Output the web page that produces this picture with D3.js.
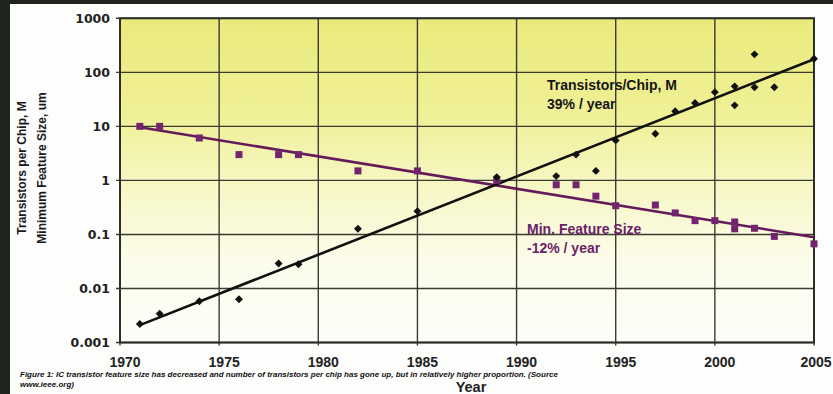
<!DOCTYPE html>
<html>
<head>
<meta charset="utf-8">
<script src="https://cdn.jsdelivr.net/npm/d3@7"></script>
<style>
  html, body { margin: 0; padding: 0; background: #1f241c; }
  svg { display: block; }
</style>
</head>
<body>
<svg id="chart" width="833" height="394"></svg>
<script>
// ---- data ----
const transYears  = [1971, 1972, 1974, 1976, 1978, 1979, 1982, 1985, 1989, 1992, 1993, 1994, 1995, 1997, 1998, 1999, 2000, 2001, 2001, 2002, 2002, 2003, 2005];
const transValues = [0.0022, 0.0034, 0.0058, 0.0063, 0.029, 0.028, 0.127, 0.27, 1.15, 1.2, 3.0, 1.5, 5.5, 7.3, 19, 27, 43, 55, 24.5, 215, 53, 53, 179];

const featYears  = [1971, 1972, 1974, 1976, 1978, 1979, 1982, 1985, 1989, 1992, 1993, 1994, 1995, 1997, 1998, 1999, 2000, 2001, 2001, 2002, 2003, 2005];
const featValues = [10, 10, 6.1, 3.0, 3.0, 3.0, 1.5, 1.5, 1.0, 0.83, 0.83, 0.51, 0.34, 0.35, 0.25, 0.18, 0.18, 0.17, 0.127, 0.13, 0.092, 0.067];

const transTrendYears  = [1971, 2005];
const transTrendValues = [0.0021, 175];
const featTrendYears  = [1971, 2005];
const featTrendValues = [9.6, 0.089];

const xTicks = [1970, 1975, 1980, 1985, 1990, 1995, 2000, 2005];
const yTicks = [0.001, 0.01, 0.1, 1, 10, 100, 1000];
const yTickLabels = ["0.001", "0.01", "0.1", "1", "10", "100", "1000"];

const transLabel = ["Transistors/Chip, M", "39% / year"];
const featLabel  = ["Min. Feature Size", "-12% / year"];
const yTitle = ["Transistors per Chip, M", "Minimum Feature Size, um"];
const xTitle = "Year";
const caption = ["Figure 1: IC transistor feature size has decreased and number of transistors per chip has gone up, but in relatively higher proportion. (Source", "www.ieee.org)"];

// ---- layout ----
const svg = d3.select("#chart");
const W = 833, H = 394;
const plot = { left: 120, right: 814, top: 18.3, bottom: 342.5 };

const x = d3.scaleLinear().domain([1970, 2005]).range([plot.left, plot.right]);
const y = d3.scaleLog().domain([0.001, 1000]).range([plot.bottom, plot.top]);

// white panel
svg.append("rect").attr("x", 10).attr("y", 4).attr("width", W - 10).attr("height", H - 4).attr("fill", "#fdfdfc");

// gradient
const defs = svg.append("defs");
const grad = defs.append("linearGradient").attr("id", "bg").attr("x1", 0).attr("y1", 0).attr("x2", 0).attr("y2", 1);
grad.append("stop").attr("offset", "0%").attr("stop-color", "#eaea7c");
grad.append("stop").attr("offset", "30%").attr("stop-color", "#f0f097");
grad.append("stop").attr("offset", "52%").attr("stop-color", "#f7f7c6");
grad.append("stop").attr("offset", "75%").attr("stop-color", "#fcfceb");
grad.append("stop").attr("offset", "100%").attr("stop-color", "#fefefa");

svg.append("rect")
  .attr("x", plot.left).attr("y", plot.top)
  .attr("width", plot.right - plot.left).attr("height", plot.bottom - plot.top)
  .attr("fill", "url(#bg)");

// grid
const g = svg.append("g");
g.selectAll(".hg").data(yTicks).enter().append("line")
  .attr("x1", plot.left - 4).attr("x2", plot.right)
  .attr("y1", d => y(d)).attr("y2", d => y(d))
  .attr("stroke", "#3b3b33").attr("stroke-width", 1.4);
g.selectAll(".vg").data(xTicks).enter().append("line")
  .attr("x1", d => x(d)).attr("x2", d => x(d))
  .attr("y1", plot.top).attr("y2", plot.bottom + 3)
  .attr("stroke", "#3b3b33").attr("stroke-width", 1.4);

// frame
svg.append("rect")
  .attr("x", plot.left).attr("y", plot.top)
  .attr("width", plot.right - plot.left).attr("height", plot.bottom - plot.top)
  .attr("fill", "none").attr("stroke", "#2e2e28").attr("stroke-width", 2);

// y tick labels
svg.selectAll(".yl").data(yTicks).enter().append("text")
  .attr("x", 110).attr("y", d => y(d))
  .attr("dy", "0.36em")
  .attr("text-anchor", "end")
  .attr("font-family", "DejaVu Sans, sans-serif").attr("font-weight", "bold")
  .attr("font-size", 12.5).attr("fill", "#222")
  .text((d, i) => yTickLabels[i]);

// x tick labels
svg.selectAll(".xl").data(xTicks).enter().append("text")
  .attr("x", d => Math.min(x(d) + 5, 816)).attr("y", 367)
  .attr("text-anchor", "middle")
  .attr("font-family", "Liberation Sans, Arial, sans-serif").attr("font-weight", "bold")
  .attr("font-size", 14).attr("fill", "#222")
  .text(d => d);

// trend lines
const line = d3.line().x(d => x(d[0])).y(d => y(d[1]));
svg.append("path")
  .attr("d", line(featTrendYears.map((d, i) => [d, featTrendValues[i]])))
  .attr("fill", "none").attr("stroke", "#651a5a").attr("stroke-width", 2.6);
svg.append("path")
  .attr("d", line(transTrendYears.map((d, i) => [d, transTrendValues[i]])))
  .attr("fill", "none").attr("stroke", "#111").attr("stroke-width", 2.6);

// feature squares
svg.selectAll(".sq").data(featYears.map((d, i) => [d, featValues[i]])).enter().append("rect")
  .attr("x", d => x(d[0]) - 3.5).attr("y", d => y(d[1]) - 3.5)
  .attr("width", 7).attr("height", 7)
  .attr("fill", "#72246f");

// transistor diamonds
const diamond = d3.symbol().type(d3.symbolDiamond2).size(40);
svg.selectAll(".dm").data(transYears.map((d, i) => [d, transValues[i]])).enter().append("path")
  .attr("d", diamond)
  .attr("transform", d => `translate(${x(d[0])},${y(d[1])})`)
  .attr("fill", "#111");

// series labels
const lab = svg.append("g").attr("font-family", "Liberation Sans, Arial, sans-serif").attr("font-weight", "bold").attr("font-size", 14);
lab.selectAll(".tl").data(transLabel).enter().append("text")
  .attr("x", 547).attr("y", (d, i) => 90 + i * 19)
  .attr("fill", "#151515").text(d => d);
lab.selectAll(".fl").data(featLabel).enter().append("text")
  .attr("x", 527).attr("y", (d, i) => 233.5 + i * 19)
  .attr("fill", "#6b1e69").text(d => d);

// y axis title
const yt = svg.append("g").attr("font-family", "Liberation Sans, Arial, sans-serif").attr("font-weight", "bold").attr("font-size", 12).attr("fill", "#1a1a1a");
yt.selectAll("text").data(yTitle).enter().append("text")
  .attr("transform", (d, i) => `translate(${26 + i * 20},168) rotate(-90)`)
  .attr("text-anchor", "middle")
  .text(d => d);

// x axis title
svg.append("text")
  .attr("x", 471).attr("y", 391.5)
  .attr("text-anchor", "middle")
  .attr("font-family", "Liberation Sans, Arial, sans-serif").attr("font-weight", "bold")
  .attr("font-size", 14.5).attr("fill", "#222")
  .text(xTitle);

// caption
svg.selectAll(".cap").data(caption).enter().append("text")
  .attr("x", 20).attr("y", (d, i) => 376.5 + i * 10)
  .attr("font-family", "Liberation Sans, Arial, sans-serif").attr("font-weight", "bold").attr("font-style", "italic")
  .attr("font-size", 8).attr("fill", "#111")
  .text(d => d);
</script>
</body>
</html>
